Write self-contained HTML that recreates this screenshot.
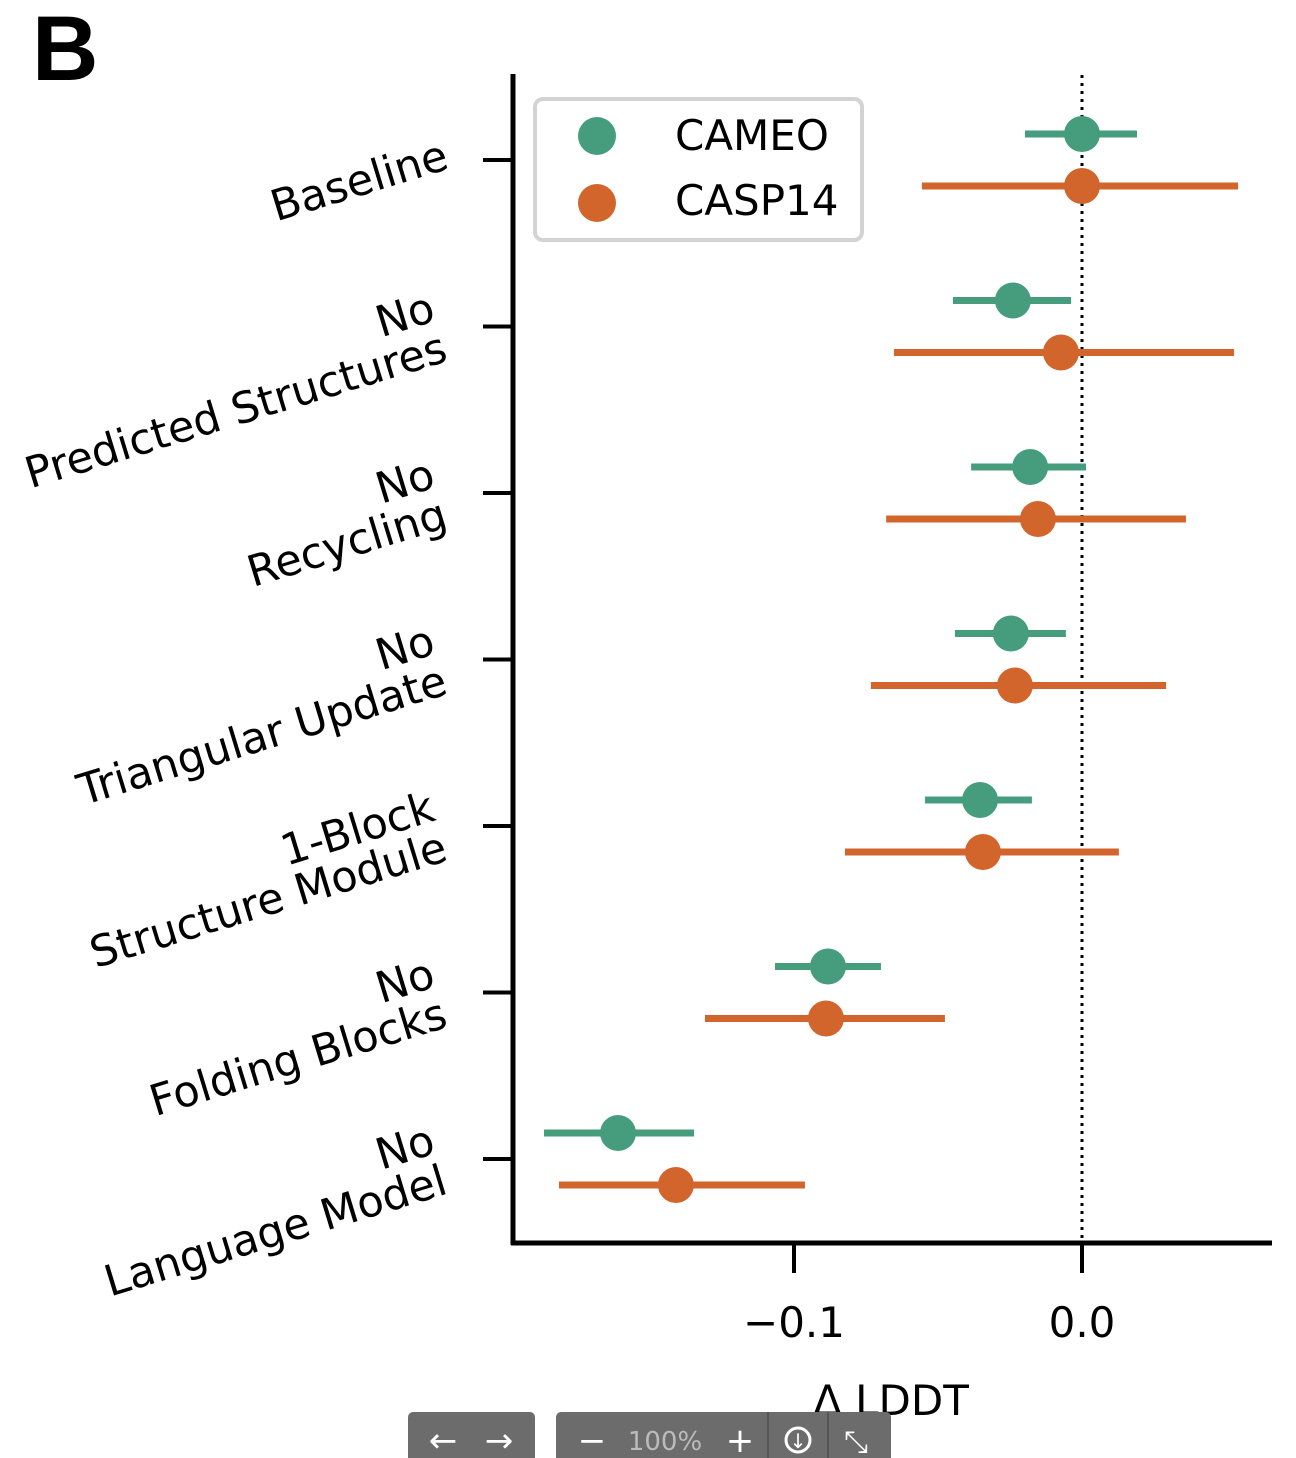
<!DOCTYPE html>
<html><head><meta charset="utf-8"><style>
html,body{margin:0;padding:0;background:#fff;}
svg{display:block;font-family:"DejaVu Sans","Liberation Sans",sans-serif;}
</style></head><body>
<svg id="chart" width="1296" height="1458" viewBox="0 0 1296 1458" xmlns="http://www.w3.org/2000/svg">
<text x="32" y="80" font-size="92" font-weight="bold" font-family="Liberation Sans, sans-serif">B</text>
<g id="plot"></g>
<g>
<rect x="535" y="99" width="327" height="141" rx="8" fill="#fff" stroke="#d3d3d3" stroke-width="4"/>
<circle cx="597" cy="136" r="19" fill="#469d7e"/>
<text x="675" y="150" font-size="42">CAMEO</text>
<circle cx="597" cy="203" r="19" fill="#d2652b"/>
<text x="675" y="215" font-size="42">CASP14</text>
</g>
<text x="891" y="1415" font-size="42" text-anchor="middle">Δ LDDT</text>
<g>
<rect x="408" y="1412" width="127" height="60" rx="5" fill="#6c6c6c"/>
<text x="443" y="1452" font-size="34" fill="#fff" text-anchor="middle">←</text>
<text x="499" y="1452" font-size="34" fill="#fff" text-anchor="middle">→</text>
<rect x="556" y="1412" width="335" height="60" rx="5" fill="#6c6c6c"/>
<text x="592" y="1452" font-size="34" fill="#fff" text-anchor="middle">−</text>
<text x="665" y="1450" font-size="26" fill="#bbb" text-anchor="middle">100%</text>
<text x="740" y="1452" font-size="34" fill="#fff" text-anchor="middle">+</text>
<line x1="768" y1="1412" x2="768" y2="1458" stroke="#555" stroke-width="2"/>
<circle cx="798" cy="1440" r="12" fill="none" stroke="#fff" stroke-width="3"/>
<text x="798" y="1448" font-size="20" fill="#fff" text-anchor="middle">↓</text>
<line x1="828" y1="1412" x2="828" y2="1458" stroke="#555" stroke-width="2"/>
<text x="856" y="1452" font-size="30" fill="#fff" text-anchor="middle">⤡</text>
</g>
</svg>
<script>
const categories = [["Baseline"],["No","Predicted Structures"],["No","Recycling"],["No","Triangular Update"],["1-Block","Structure Module"],["No","Folding Blocks"],["No","Language Model"]];
const cameoMean = [0, -0.024, -0.018, -0.0247, -0.0354, -0.0882, -0.1611];
const cameoLow = [-0.0198, -0.0448, -0.0385, -0.0441, -0.0545, -0.1066, -0.1868];
const cameoHigh = [0.0191, -0.0038, 0.0014, -0.0056, -0.0174, -0.0698, -0.1347];
const caspMean = [0, -0.0073, -0.0153, -0.0233, -0.0344, -0.0889, -0.141];
const caspLow = [-0.0556, -0.0653, -0.068, -0.0733, -0.0823, -0.1309, -0.1816];
const caspHigh = [0.0542, 0.0528, 0.0361, 0.0292, 0.0128, -0.0476, -0.0962];
const xTicks = [-0.1, 0.0];
const xTickLabels = ["−0.1", "0.0"];

const NS = "http://www.w3.org/2000/svg";
const g = document.getElementById("plot");
const X = v => 1082 + v * 2880;
const Y = i => 160 + i * 166.5;
function mk(tag, attrs, parent) {
  const e = document.createElementNS(NS, tag);
  for (const k in attrs) e.setAttribute(k, attrs[k]);
  (parent || g).appendChild(e);
  return e;
}
let zl = mk("line", {x1: X(0), y1: 75, x2: X(0), y2: 1243, stroke: "#000", "stroke-width": 3, "stroke-dasharray": "3 5"});


let ya = mk("line", {x1: 513, y1: 74, x2: 513, y2: 1245, stroke: "#000", "stroke-width": 5});


let xa = mk("line", {x1: 511, y1: 1243, x2: 1272, y2: 1243, stroke: "#000", "stroke-width": 5});


xTicks.forEach((t, i) => {
  let tk = mk("line", {x1: X(t), y1: 1243, x2: X(t), y2: 1273, stroke: "#000", "stroke-width": 4});
  
  
  let tl = mk("text", {x: X(t), y: 1337, "font-size": 42, "text-anchor": "middle"});
  tl.textContent = xTickLabels[i];
  
  
});
categories.forEach((lines, i) => {
  const y = Y(i);
  let tk = mk("line", {x1: 483, y1: y, x2: 513, y2: y, stroke: "#000", "stroke-width": 4});
  
  
  const grp = mk("g", {transform: `translate(${lines.length === 1 ? 445 : 436},${y - 10}) rotate(-17)`});
  
  
  const offs = lines.length === 1 ? [19] : [4, 46];
  lines.forEach((s, j) => {
    const t = mk("text", {x: 0, y: offs[j], "font-size": 43, "text-anchor": "end"}, grp);
    t.textContent = s;
  });
  [[cameoMean, cameoLow, cameoHigh, "#469d7e", -26, "cameo"], [caspMean, caspLow, caspHigh, "#d2652b", 26, "casp14"]].forEach(([m, lo, hi, c, dy, nm]) => {
    let eb = mk("line", {x1: X(lo[i]), y1: y + dy, x2: X(hi[i]), y2: y + dy, stroke: c, "stroke-width": 7});
    
    
    let pt = mk("circle", {cx: X(m[i]), cy: y + dy, r: 18, fill: c});
    
    
  });
});
</script>
</body></html>
